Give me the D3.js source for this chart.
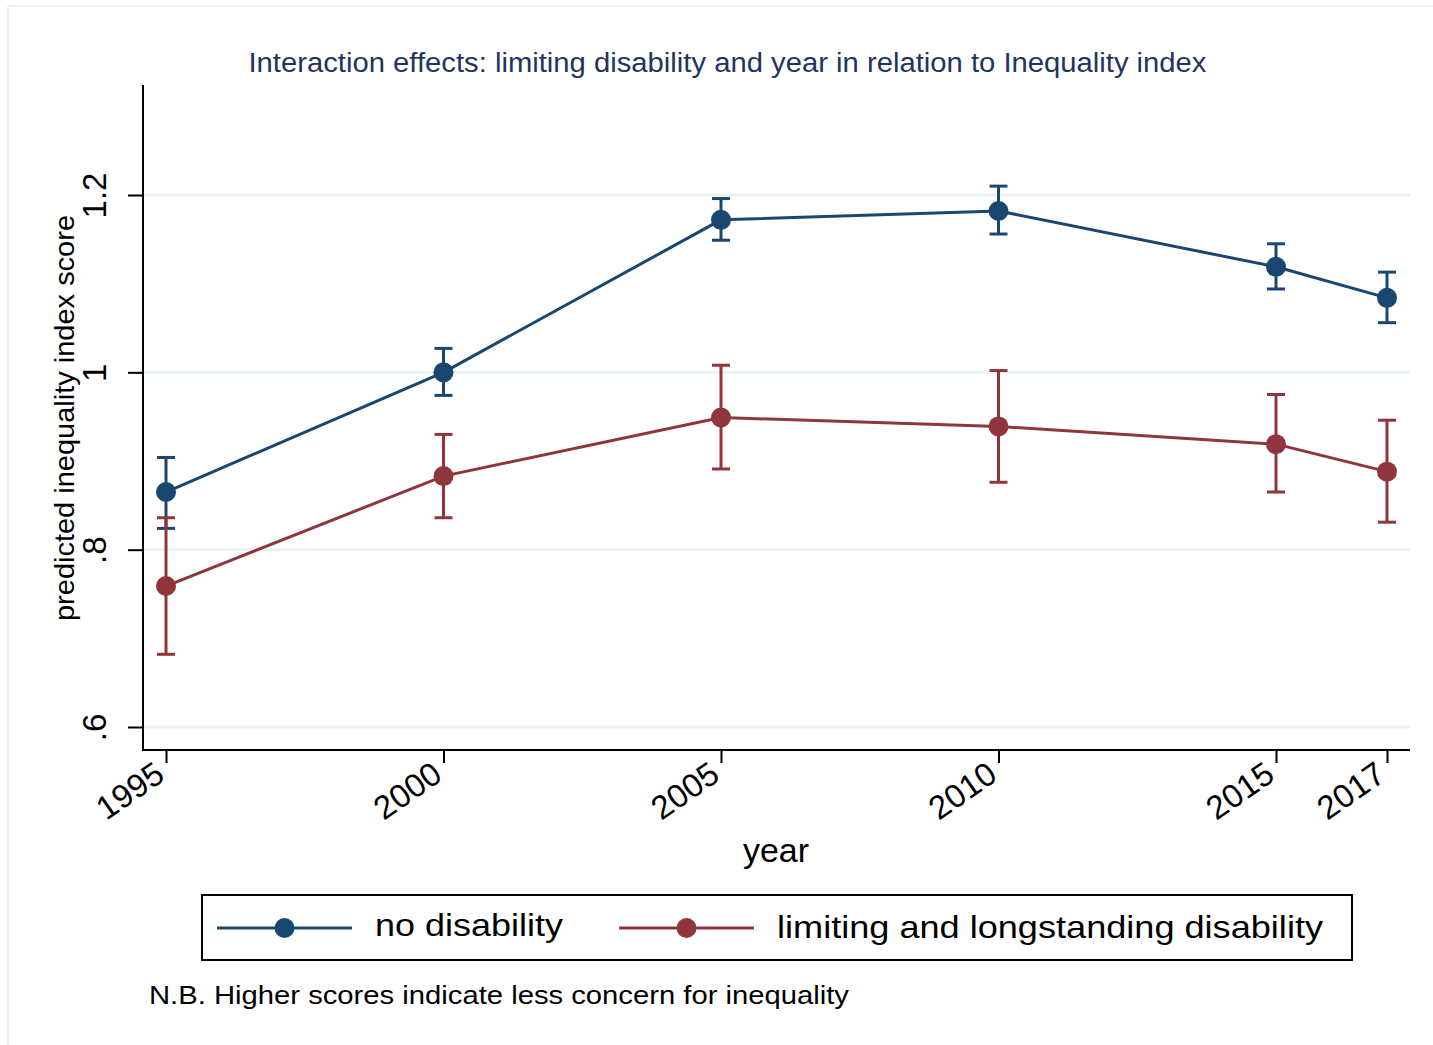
<!DOCTYPE html>
<html>
<head>
<meta charset="utf-8">
<script src="https://cdn.jsdelivr.net/npm/d3@7"></script>
<style>
  html, body { margin: 0; padding: 0; background: #fff; }
  svg { display: block; font-family: "Liberation Sans", Arial, sans-serif; }
</style>
</head>
<body>
<svg id="chart" width="1433" height="1045"></svg>
<script>
// ---- data ----
const years = [1995, 2000, 2005, 2010, 2015, 2017];
const yearLabels = ["1995", "2000", "2005", "2010", "2015", "2017"];
const seriesNames = ["no disability", "limiting and longstanding disability"];
const noDisability      = [0.865, 1.000, 1.172, 1.182, 1.119, 1.084];
const noDisabilityLow   = [0.824, 0.974, 1.149, 1.156, 1.094, 1.056];
const noDisabilityHigh  = [0.904, 1.027, 1.196, 1.210, 1.145, 1.113];
const limiting          = [0.759, 0.883, 0.949, 0.939, 0.919, 0.888];
const limitingLow       = [0.682, 0.836, 0.891, 0.876, 0.865, 0.831];
const limitingHigh      = [0.836, 0.930, 1.008, 1.002, 0.975, 0.946];
const yTicks = [0.6, 0.8, 1.0, 1.2];
const yTickLabels = [".6", ".8", "1", "1.2"];
const titleText = "Interaction effects: limiting disability and year in relation to Inequality index";
const yTitle = "predicted inequality index score";
const xTitle = "year";
const noteText = "N.B. Higher scores indicate less concern for inequality";

const colors = ["#1a476f", "#90353b"];
const gridColor = "#eaf2f3";

const svg = d3.select("#chart");

// outer frame
svg.append("line").attr("x1", 8).attr("x2", 1433).attr("y1", 6).attr("y2", 6)
  .attr("stroke", gridColor).attr("stroke-width", 2);
svg.append("line").attr("x1", 8).attr("x2", 8).attr("y1", 6).attr("y2", 1045)
  .attr("stroke", gridColor).attr("stroke-width", 2);

// plot region
const plot = { left: 143, right: 1410, top: 85, bottom: 750 };
const x = d3.scaleLinear().domain([1995, 2017]).range([166, 1387]);
const y = d3.scaleLinear().domain([0.6, 1.2]).range([727, 195]);

// gridlines
svg.append("g").selectAll("line").data(yTicks).join("line")
  .attr("x1", plot.left).attr("x2", plot.right)
  .attr("y1", d => y(d)).attr("y2", d => y(d))
  .attr("stroke", gridColor).attr("stroke-width", 3);

// y axis
const yAxis = d3.axisLeft(y).tickValues(yTicks).tickSize(15)
  .tickFormat((d, i) => yTickLabels[i]);
const gy = svg.append("g").attr("transform", `translate(${plot.left},0)`).call(yAxis);
gy.select(".domain").remove();
gy.selectAll(".tick line").attr("stroke", "#000").attr("stroke-width", 2);
gy.selectAll(".tick text")
  .attr("transform", "rotate(-90)")
  .attr("x", 0).attr("y", -37)
  .attr("dy", null)
  .attr("text-anchor", "middle")
  .attr("font-size", 33)
  .attr("fill", "#000");
svg.append("line").attr("x1", plot.left).attr("x2", plot.left)
  .attr("y1", plot.top).attr("y2", plot.bottom + 1)
  .attr("stroke", "#000").attr("stroke-width", 2);

// x axis
const xAxis = d3.axisBottom(x).tickValues(years).tickSize(13)
  .tickFormat((d, i) => yearLabels[i]);
const gx = svg.append("g").attr("transform", `translate(0,${plot.bottom})`).call(xAxis);
gx.select(".domain").remove();
gx.selectAll(".tick line").attr("stroke", "#000").attr("stroke-width", 2);
gx.selectAll(".tick text")
  .attr("x", 0).attr("y", 0).attr("dy", null)
  .attr("text-anchor", "end")
  .attr("transform", "translate(0,29) rotate(-35)")
  .attr("font-size", 33)
  .attr("fill", "#000");
svg.append("line").attr("x1", plot.left - 1).attr("x2", plot.right)
  .attr("y1", plot.bottom).attr("y2", plot.bottom)
  .attr("stroke", "#000").attr("stroke-width", 2);

// series
const series = [
  { name: seriesNames[0], vals: noDisability, lo: noDisabilityLow, hi: noDisabilityHigh, color: colors[0] },
  { name: seriesNames[1], vals: limiting, lo: limitingLow, hi: limitingHigh, color: colors[1] }
];
const line = d3.line().x((d, i) => x(years[i])).y(d => y(d));
const capW = 9;

series.forEach(s => {
  const g = svg.append("g");
  g.append("path").datum(s.vals).attr("d", line)
    .attr("fill", "none").attr("stroke", s.color).attr("stroke-width", 3);
  years.forEach((yr, i) => {
    const cx = x(yr);
    g.append("line").attr("x1", cx).attr("x2", cx)
      .attr("y1", y(s.lo[i])).attr("y2", y(s.hi[i]))
      .attr("stroke", s.color).attr("stroke-width", 3);
    [s.lo[i], s.hi[i]].forEach(v => {
      g.append("line").attr("x1", cx - capW).attr("x2", cx + capW)
        .attr("y1", y(v)).attr("y2", y(v))
        .attr("stroke", s.color).attr("stroke-width", 3);
    });
  });
  g.selectAll("circle").data(s.vals).join("circle")
    .attr("cx", (d, i) => x(years[i])).attr("cy", d => y(d))
    .attr("r", 10).attr("fill", s.color);
});

// title
svg.append("text").attr("x", 727.5).attr("y", 72)
  .attr("text-anchor", "middle").attr("font-size", 27)
  .attr("fill", "#1f3560")
  .attr("textLength", 958).attr("lengthAdjust", "spacingAndGlyphs")
  .text(titleText);

// y title
svg.append("text").attr("transform", "translate(74,418) rotate(-90)")
  .attr("text-anchor", "middle").attr("font-size", 28).attr("fill", "#000")
  .attr("textLength", 406).attr("lengthAdjust", "spacingAndGlyphs")
  .text(yTitle);

// x title
svg.append("text").attr("x", 776).attr("y", 862)
  .attr("text-anchor", "middle").attr("font-size", 34).attr("fill", "#000")
  .text(xTitle);

// legend
svg.append("rect").attr("x", 202).attr("y", 895).attr("width", 1150).attr("height", 65)
  .attr("fill", "#fff").attr("stroke", "#000").attr("stroke-width", 2);
const legendItems = [
  { x1: 217, x2: 352, tx: 375, tw: 188, ty: 936 },
  { x1: 619, x2: 754, tx: 777, tw: 546, ty: 938 }
];
series.forEach((s, i) => {
  const L = legendItems[i];
  svg.append("line").attr("x1", L.x1).attr("x2", L.x2).attr("y1", 928).attr("y2", 928)
    .attr("stroke", s.color).attr("stroke-width", 3);
  svg.append("circle").attr("cx", (L.x1 + L.x2) / 2).attr("cy", 928).attr("r", 10).attr("fill", s.color);
  svg.append("text").attr("x", L.tx).attr("y", L.ty)
    .attr("font-size", 32).attr("fill", "#000")
    .attr("textLength", L.tw).attr("lengthAdjust", "spacingAndGlyphs")
    .text(s.name);
});

// note
svg.append("text").attr("x", 149).attr("y", 1004)
  .attr("font-size", 26).attr("fill", "#000")
  .attr("textLength", 700).attr("lengthAdjust", "spacingAndGlyphs")
  .text(noteText);
</script>
</body>
</html>
